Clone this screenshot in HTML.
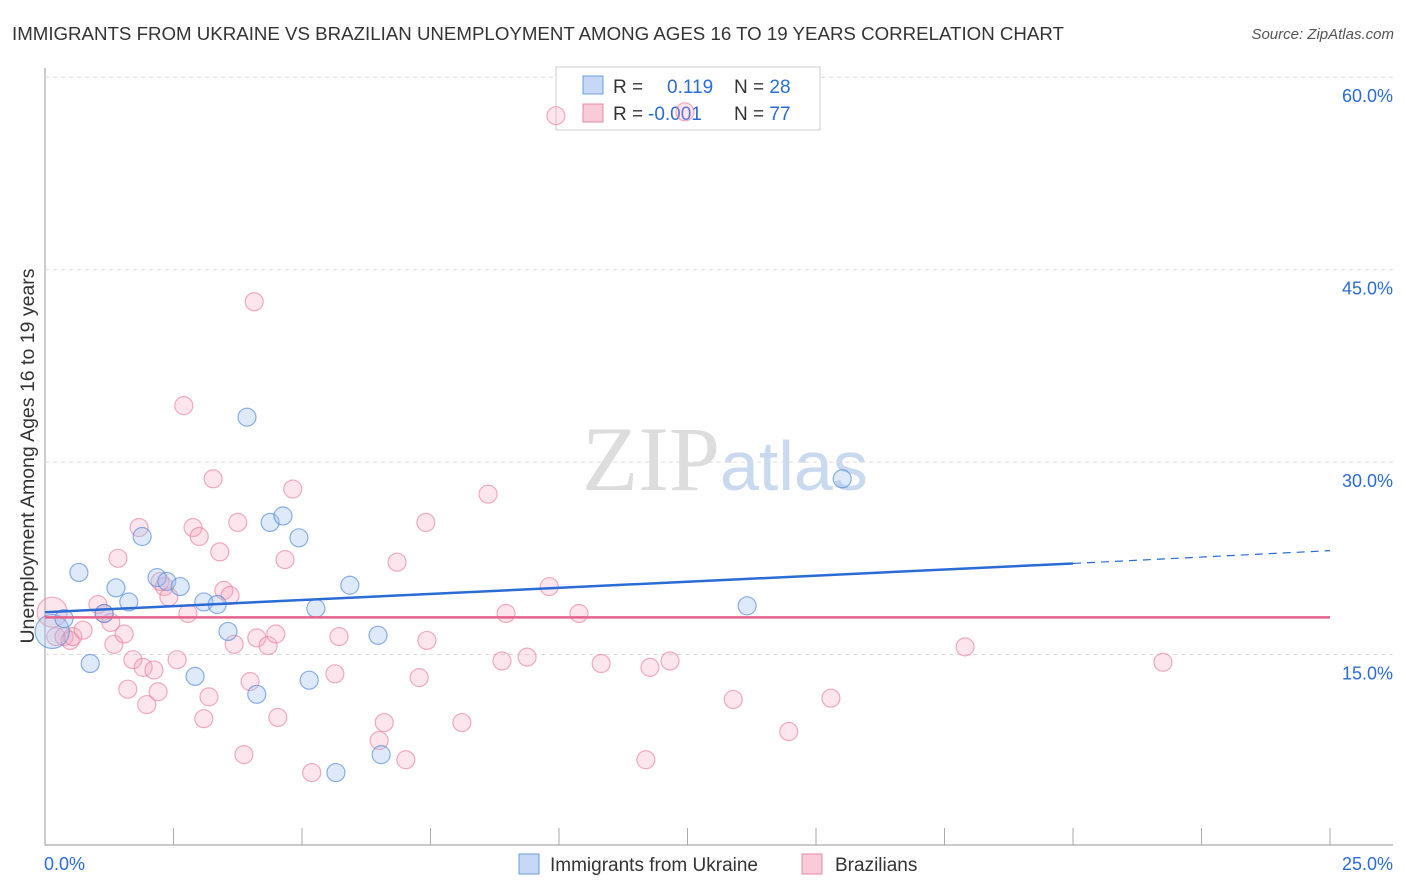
<!DOCTYPE html>
<html><head><meta charset="utf-8"><style>
body{margin:0;background:#fff;font-family:"Liberation Sans",sans-serif}
svg{display:block}
</style></head><body>
<svg id="chart" width="1406" height="892">
<text x="12" y="40" font-size="18.7" fill="#333">IMMIGRANTS FROM UKRAINE VS BRAZILIAN UNEMPLOYMENT AMONG AGES 16 TO 19 YEARS CORRELATION CHART</text>
<text x="1394" y="39" font-size="15" fill="#555" font-style="italic" text-anchor="end">Source: ZipAtlas.com</text>
<text x="720" y="490" font-size="92" fill="#ddd" text-anchor="end" font-family="Liberation Serif,serif">ZIP</text>
<text x="720" y="490" font-size="70" fill="#c9d9ef">atlas</text>
<text transform="translate(34,456) rotate(-90)" font-size="19.5" fill="#333" text-anchor="middle">Unemployment Among Ages 16 to 19 years</text>
<g id="grid"></g>
<g>
<rect x="556" y="67" width="264" height="63" fill="#fff" stroke="#ccc"/>
<rect x="583" y="76" width="20" height="18" fill="#c5d8f5" stroke="#6b9be0"/>
<rect x="583" y="104" width="20" height="18" fill="#f9cbd8" stroke="#e88aa7"/>
<text x="613" y="93" font-size="19" fill="#333">R = <tspan x="667" fill="#2a6bd6">0.119</tspan><tspan x="734" fill="#333">N = </tspan><tspan fill="#2a6bd6">28</tspan></text>
<text x="613" y="120" font-size="19" fill="#333">R = <tspan x="648" fill="#2a6bd6">-0.001</tspan><tspan x="734" fill="#333">N = </tspan><tspan fill="#2a6bd6">77</tspan></text>
</g>
<g id="marks"></g>
<g>
<rect x="519" y="854" width="20" height="20" fill="#c5d8f5" stroke="#6b9be0"/>
<text x="550" y="871" font-size="19" fill="#333">Immigrants from Ukraine</text>
<rect x="802" y="854" width="20" height="20" fill="#f9cbd8" stroke="#e88aa7"/>
<text x="835" y="871" font-size="19" fill="#333">Brazilians</text>
</g>
<text x="44" y="870" font-size="18" fill="#2a6bd6">0.0%</text>
<text x="1393" y="870" font-size="18" fill="#2a6bd6" text-anchor="end">25.0%</text>
</svg>
<script>
const yTicks=[15,30,45,60];
const yTickLabels=["15.0%","30.0%","45.0%","60.0%"];
const xTicks=[0,2.5,5,7.5,10,12.5,15,17.5,20,22.5,25];
const ukraineX=[0.14,0.37,0.66,0.88,1.38,1.63,1.89,2.18,2.37,2.63,2.92,3.09,3.35,3.56,3.93,4.12,4.38,4.63,4.94,5.14,5.27,5.66,5.93,6.48,6.54,13.66,15.51,1.15];
const ukraineY=[16.8,17.8,21.4,14.3,20.2,19.1,24.2,21.0,20.7,20.3,13.3,19.1,18.9,16.8,33.5,11.9,25.3,25.8,24.1,13.0,18.6,5.8,20.4,16.5,7.2,18.8,28.7,18.2];
const brazilX=[0.14,0.21,0.37,0.49,0.54,0.74,1.03,1.15,1.28,1.34,1.42,1.54,1.61,1.71,1.83,1.91,1.98,2.12,2.20,2.32,2.41,2.57,2.70,2.78,2.88,3.00,3.09,3.19,3.27,3.40,3.48,3.60,3.68,3.75,3.87,3.99,4.07,4.12,4.34,4.49,4.53,4.67,4.82,5.19,5.72,5.64,6.50,6.60,6.85,7.02,7.28,7.41,7.43,8.11,8.62,8.89,8.97,9.38,9.81,9.94,10.39,10.82,11.69,11.77,12.16,12.45,13.39,14.47,15.29,17.90,21.75,2.24];
const brazilY=[18.3,16.4,16.4,16.1,16.4,16.9,18.9,18.2,17.5,15.8,22.5,16.6,12.3,14.6,24.9,14.0,11.1,13.8,12.1,20.3,19.5,14.6,34.4,18.2,24.9,24.2,10.0,11.7,28.7,23.0,20.0,19.6,15.8,25.3,7.2,12.9,42.5,16.3,15.7,16.6,10.1,22.4,27.9,5.8,16.4,13.5,8.3,9.7,22.2,6.8,13.2,25.3,16.1,9.7,27.5,14.5,18.2,14.8,20.3,57.0,18.2,14.3,6.8,14.0,14.5,57.3,11.5,9.0,11.6,15.6,14.4,20.7];
const ukraineTrend=[18.3,22.1,23.1]; const trendX=[0,20,25];
const brazilTrend=17.9;
const X=v=>45+v*51.4, Y=v=>847-v*12.83;
const NS="http://www.w3.org/2000/svg";
function mk(tag,attrs,parent){const e=document.createElementNS(NS,tag);for(const k in attrs)e.setAttribute(k,attrs[k]);parent.appendChild(e);return e;}
const grid=document.getElementById('grid'), marks=document.getElementById('marks');
let a=mk('line',{x1:45,y1:68,x2:45,y2:845,stroke:'#aaa','stroke-width':1.2},grid);


a=mk('line',{x1:45,y1:845,x2:1393,y2:845,stroke:'#aaa','stroke-width':1.2},grid);


yTicks.forEach((t,i)=>{
 const g=mk('line',{x1:45,y1:Y(t),x2:1393,y2:Y(t),stroke:'#ddd','stroke-dasharray':'4,4'},grid);
 
 
 const tx=mk('text',{x:1393,y:Y(t)+25,'font-size':18,fill:'#2a6bd6','text-anchor':'end'},grid);
 tx.textContent=yTickLabels[i];
 
 
});
xTicks.forEach(t=>{
 const l=mk('line',{x1:X(t),y1:828,x2:X(t),y2:845,stroke:'#aaa'},grid);
 
 
});
brazilX.forEach((x,i)=>{
 const c=mk('circle',{cx:X(x),cy:Y(brazilY[i]),r:i==0?15:9,fill:'rgba(244,160,188,0.28)',stroke:'rgba(232,120,155,0.6)','stroke-width':1.2},marks);
 
 
});
ukraineX.forEach((x,i)=>{
 const c=mk('circle',{cx:X(x),cy:Y(ukraineY[i]),r:i==0?17:9,fill:'rgba(160,195,240,0.35)',stroke:'rgba(80,135,215,0.65)','stroke-width':1.2},marks);
 
 
});
let t=mk('line',{x1:X(trendX[0]),y1:Y(brazilTrend),x2:X(25),y2:Y(brazilTrend),stroke:'#e5628d','stroke-width':2.5},marks);


t=mk('line',{x1:X(trendX[0]),y1:Y(ukraineTrend[0]),x2:X(trendX[1]),y2:Y(ukraineTrend[1]),stroke:'#2a6bd6','stroke-width':2.5},marks);


t=mk('line',{x1:X(trendX[1]),y1:Y(ukraineTrend[1]),x2:X(trendX[2]),y2:Y(ukraineTrend[2]),stroke:'#2a6bd6','stroke-width':1.2,'stroke-dasharray':'8,6'},marks);


</script>
</body></html>
